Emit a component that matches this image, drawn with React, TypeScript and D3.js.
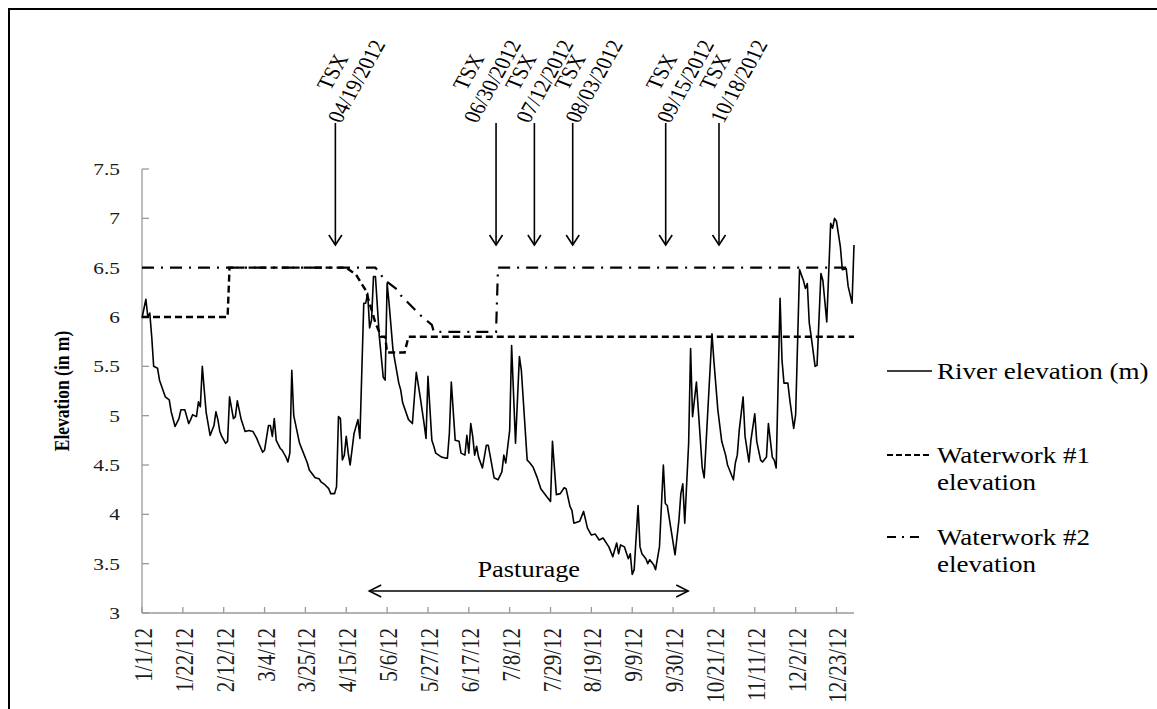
import React from "react";
import * as d3 from "d3";

// ---------- data ----------
const yTicks = [3, 3.5, 4, 4.5, 5, 5.5, 6, 6.5, 7, 7.5];
const xTickLabels = ["1/1/12", "1/22/12", "2/12/12", "3/4/12", "3/25/12", "4/15/12", "5/6/12", "5/27/12", "6/17/12", "7/8/12", "7/29/12", "8/19/12", "9/9/12", "9/30/12", "10/21/12", "11/11/12", "12/2/12", "12/23/12"];

// river elevation: day offset from 1/1/12, elevation (m)
const riverDay = [0, 2, 3, 4, 5, 6, 8, 9, 12, 14, 15, 17, 19, 20, 22, 24, 25, 26, 28, 29, 30, 31, 32, 33, 35, 37, 38, 39, 40, 41, 43, 44, 45, 47, 48, 49, 51, 53, 55, 57, 59, 60, 62, 63, 65, 66, 67, 68, 69, 71, 72, 74, 75, 76, 77, 78, 81, 83, 85, 86, 89, 91, 92, 94, 96, 97, 99, 100, 101, 102, 103, 104, 105, 106, 107, 109, 111, 112, 114, 115, 116, 117, 118, 119, 120, 122, 124, 125, 126, 127, 129, 132, 133, 134, 137, 139, 141, 143, 145, 146, 147, 149, 150, 151, 154, 156, 157, 158, 159, 161, 163, 164, 166, 167, 168, 169, 170, 171, 172, 173, 175, 177, 178, 180, 181, 183, 185, 186, 187, 189, 190, 192, 194, 195, 198, 199, 201, 203, 205, 208, 210, 211, 213, 215, 217, 218, 220, 221, 222, 225, 227, 229, 231, 233, 235, 237, 240, 242, 244, 245, 246, 248, 250, 251, 252, 253, 255, 256, 257, 259, 260, 261, 263, 264, 266, 268, 269, 270, 272, 274, 276, 277, 278, 279, 281, 282, 283, 285, 288, 289, 293, 294, 296, 298, 300, 301, 304, 305, 306, 307, 309, 310, 312, 313, 315, 316, 318, 319, 321, 322, 324, 325, 326, 328, 329, 330, 332, 333, 335, 336, 338, 340, 341, 342, 343, 344, 346, 347, 349, 350, 352, 354, 355, 356, 357, 359, 360, 362, 363, 365, 366];
const riverElev = [5.99, 6.18, 6.0, 6.04, 5.8, 5.5, 5.48, 5.36, 5.19, 5.16, 5.04, 4.89, 4.97, 5.06, 5.06, 4.92, 4.96, 5.01, 4.99, 5.14, 5.09, 5.5, 5.26, 5.03, 4.8, 4.9, 5.04, 4.96, 4.84, 4.79, 4.72, 4.74, 5.19, 4.97, 4.99, 5.15, 4.96, 4.84, 4.85, 4.84, 4.77, 4.72, 4.63, 4.65, 4.9, 4.9, 4.79, 4.97, 4.75, 4.67, 4.65, 4.58, 4.53, 4.62, 5.46, 5.0, 4.72, 4.62, 4.52, 4.45, 4.37, 4.36, 4.33, 4.3, 4.26, 4.21, 4.21, 4.28, 4.99, 4.97, 4.55, 4.6, 4.79, 4.62, 4.5, 4.82, 4.96, 4.77, 6.14, 6.14, 6.24, 5.89, 5.97, 6.41, 6.41, 5.8, 5.39, 5.36, 6.34, 6.14, 5.67, 5.33, 5.26, 5.13, 4.96, 4.92, 5.44, 5.19, 4.92, 4.77, 5.4, 4.75, 4.69, 4.62, 4.58, 4.57, 4.57, 4.82, 5.34, 4.75, 4.74, 4.62, 4.6, 4.8, 4.62, 4.92, 4.79, 4.6, 4.69, 4.58, 4.47, 4.7, 4.7, 4.48, 4.37, 4.35, 4.43, 4.6, 4.52, 4.85, 5.71, 4.72, 5.6, 5.46, 4.55, 4.53, 4.48, 4.38, 4.26, 4.18, 4.13, 4.74, 4.2, 4.21, 4.27, 4.26, 4.08, 4.04, 3.91, 3.93, 4.03, 3.86, 3.79, 3.8, 3.74, 3.76, 3.67, 3.57, 3.71, 3.6, 3.69, 3.67, 3.55, 3.6, 3.39, 3.44, 4.09, 3.67, 3.6, 3.55, 3.5, 3.54, 3.49, 3.44, 3.67, 4.5, 4.11, 4.09, 3.84, 3.59, 3.94, 4.21, 4.31, 3.91, 4.72, 5.68, 4.99, 5.34, 4.47, 4.37, 5.83, 5.55, 5.06, 4.74, 4.6, 4.5, 4.35, 4.52, 4.6, 4.85, 5.19, 4.79, 4.53, 4.75, 5.02, 4.74, 4.55, 4.53, 4.58, 4.92, 4.58, 4.55, 4.47, 6.19, 5.56, 5.33, 5.33, 5.16, 4.87, 5.01, 6.48, 6.37, 6.29, 6.34, 5.94, 5.8, 5.5, 5.51, 6.44, 6.37, 5.95, 6.95, 6.9, 7.0, 6.97, 6.71, 6.48, 6.49, 6.31, 6.14, 6.73];

const ww1Day = [0, 44, 45, 105, 110, 115, 117, 120, 123, 125, 126, 135, 137, 366];
const ww1Elev = [6.0, 6.0, 6.5, 6.5, 6.43, 6.27, 6.14, 5.94, 5.8, 5.8, 5.64, 5.64, 5.8, 5.8];

const ww2Day = [0, 120, 125, 131, 133, 143, 149, 150, 182, 183, 366];
const ww2Elev = [6.5, 6.5, 6.37, 6.28, 6.22, 6.02, 5.92, 5.85, 5.85, 6.5, 6.5];

// TerraSAR-X acquisitions: label, arrow position (day), label centre (day) as drawn
const tsxLabels = ["04/19/2012", "06/30/2012", "07/12/2012", "08/03/2012", "09/15/2012", "10/18/2012"];
const tsxArrowDay = [99.4, 182, 201.7, 221.4, 269.2, 296.6];
const tsxLabelDay = [109.9, 179.8, 206.7, 232, 279, 306.5];

const pasturageStartDay = 116.8;
const pasturageEndDay = 280.8;

const legendItems = [
  { lines: ["River elevation (m)"], dash: "none", width: 1.6 },
  { lines: ["Waterwork #1", "elevation"], dash: "6,3", width: 2.2 },
  { lines: ["Waterwork #2", "elevation"], dash: "9,6,2,6", width: 2.2 },
];

// ---------- layout ----------
const W = 1157;
const H = 709;
const left = 142, right = 854, top = 169, bottom = 613;
const FONT = "'Liberation Serif', 'Times New Roman', serif";

const start = new Date(2012, 0, 1);
const dayDate = (d: number) => new Date(start.getTime() + d * 86400000);

const x = d3.scaleTime().domain([start, new Date(2013, 0, 1)]).range([left, right]);
const y = d3.scaleLinear().domain([3, 7.5]).range([bottom, top]);
const parseTick = d3.timeParse("%m/%d/%y");

function St({ x: tx, y: ty, sx = 1, rot = 0, size, anchor = "start", weight = "normal", fill = "#000", children }: any) {
  return (
    <text
      transform={`translate(${tx},${ty}) scale(${sx},1)${rot ? ` rotate(${rot})` : ""}`}
      fontSize={size}
      fontFamily={FONT}
      textAnchor={anchor}
      fontWeight={weight}
      fill={fill}
    >
      {children}
    </text>
  );
}

export default function App() {
  const line = d3
    .line<[number, number]>()
    .x((d) => x(dayDate(d[0])))
    .y((d) => y(d[1]));

  const river = line(riverDay.map((d, i) => [d, riverElev[i]]));
  const ww1 = line(ww1Day.map((d, i) => [d, ww1Elev[i]]));
  const ww2 = line(ww2Day.map((d, i) => [d, ww2Elev[i]]));

  const arrowTop = 123;
  const arrowTip = 245;
  const pY = 591;
  const pL = x(dayDate(pasturageStartDay));
  const pR = x(dayDate(pasturageEndDay));

  const legendX = 887;
  const legendBase = [379, 463, 545];

  return (
    <svg width={W} height={H} style={{ display: "block", position: "absolute", left: 0, top: 0 }}>
      <rect x={0} y={0} width={W} height={H} fill="#fff" />
      <rect x={9} y={9} width={W + 20} height={H + 20} fill="none" stroke="#000" strokeWidth={2} />

      {/* axes */}
      <line x1={left} x2={left} y1={top} y2={bottom} stroke="#9a9a9a" strokeWidth={1.3} />
      <line x1={left} x2={right} y1={bottom} y2={bottom} stroke="#9a9a9a" strokeWidth={1.3} />
      {yTicks.map((t) => (
        <g key={t}>
          <line x1={left} x2={left + 7} y1={y(t)} y2={y(t)} stroke="#9a9a9a" strokeWidth={1.3} />
          <St x={120} y={y(t) + 6} sx={1.22} size={17.5} anchor="end" fill="#1a1a1a">
            {String(t)}
          </St>
        </g>
      ))}
      {xTickLabels.map((lab) => {
        const px = x(parseTick(lab) as Date);
        return (
          <g key={lab}>
            <line x1={px} x2={px} y1={bottom} y2={bottom - 6} stroke="#9a9a9a" strokeWidth={1.3} />
            <St x={px + 10} y={628} sx={1.2} rot={-90} size={21} anchor="end" fill="#1a1a1a">
              {lab}
            </St>
          </g>
        );
      })}
      <St x={69} y={391} sx={1.2} rot={-90} size={17.5} anchor="middle" weight="bold">
        Elevation (in m)
      </St>

      {/* series */}
      <path d={ww2 || ""} fill="none" stroke="#000" strokeWidth={2.2} strokeDasharray="12,7,2,7" />
      <path d={ww1 || ""} fill="none" stroke="#000" strokeWidth={2.4} strokeDasharray="7,4" />
      <path d={river || ""} fill="none" stroke="#000" strokeWidth={1.6} strokeLinejoin="round" />

      {/* TSX annotations */}
      {tsxLabels.map((lab, i) => {
        const ax = x(dayDate(tsxArrowDay[i]));
        const lx = x(dayDate(tsxLabelDay[i]));
        return (
          <g key={lab}>
            <line x1={ax} x2={ax} y1={arrowTop} y2={arrowTip} stroke="#000" strokeWidth={1.6} />
            <polyline
              points={`${ax - 6.5},${arrowTip - 10} ${ax},${arrowTip} ${ax + 6.5},${arrowTip - 10}`}
              fill="none"
              stroke="#000"
              strokeWidth={1.6}
            />
            <g transform={`translate(${lx},81) scale(1.2,1) rotate(-65)`}>
              <text x={0} y={-15} fontSize={19.4} fontFamily={FONT} textAnchor="middle">TSX</text>
              <text x={0} y={7} fontSize={19.4} fontFamily={FONT} textAnchor="middle">{lab}</text>
            </g>
          </g>
        );
      })}

      {/* Pasturage */}
      <line x1={pL} x2={pR} y1={pY} y2={pY} stroke="#000" strokeWidth={1.5} />
      <polyline points={`${pL + 12},${pY - 6} ${pL},${pY} ${pL + 12},${pY + 6}`} fill="none" stroke="#000" strokeWidth={1.5} />
      <polyline points={`${pR - 12},${pY - 6} ${pR},${pY} ${pR - 12},${pY + 6}`} fill="none" stroke="#000" strokeWidth={1.5} />
      <St x={(pL + pR) / 2} y={577} sx={1.1} size={24} anchor="middle">
        Pasturage
      </St>

      {/* legend */}
      {legendItems.map((it, i) => {
        const b = legendBase[i];
        const ly = b - 8;
        return (
          <g key={i}>
            <line
              x1={legendX}
              x2={i === 2 ? legendX + 36 : legendX + 45}
              y1={ly}
              y2={ly}
              stroke="#000"
              strokeWidth={it.width}
              strokeDasharray={it.dash === "none" ? undefined : it.dash}
            />
            {it.lines.map((t, j) => (
              <St key={j} x={937} y={b + j * 27} sx={1.15} size={23.5}>
                {t}
              </St>
            ))}
          </g>
        );
      })}
    </svg>
  );
}
